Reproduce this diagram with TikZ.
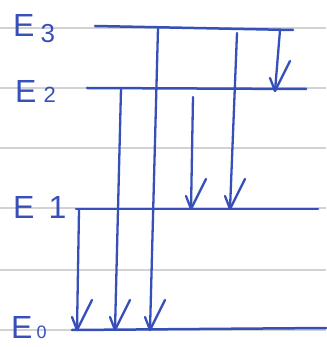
\documentclass[tikz,border=0pt]{standalone}
\usepackage{fontspec}
\setmainfont{Liberation Sans}
\definecolor{ink}{RGB}{55,80,185}
\definecolor{rulegray}{RGB}{210,210,210}
\begin{document}
\begin{tikzpicture}[x=1pt,y=-1pt,
  lvl/.style={draw=ink,line width=2.5pt,line cap=round},
  trans/.style={draw=ink,line width=2.3pt,line cap=round,line join=round},
  ruling/.style={draw=rulegray,line width=1.2pt},
  lab/.style={text=ink,font=\fontsize{32}{32}\selectfont,inner sep=0pt,anchor=base west},
  chk/.pic={\draw[trans] (-5,-13) -- (0,0) -- (15,-30);}]
\useasboundingbox (0,0) rectangle (326,347);
\fill[white] (0,0) rectangle (326,347);
\foreach \y in {28,88,148,208,270,330} \draw[ruling] (0,\y) -- (326,\y);
% labels
\node[lab] (l3) at (13,37) {E\kern6pt\raisebox{-6pt}{\fontsize{26}{26}\selectfont 3}};
\node[lab] (l2) at (15,103) {E\kern7pt{\fontsize{22}{22}\selectfont 2}};
\node[lab] (l1) at (13,218) {E\kern14pt 1};
\node[lab] (l0) at (11,338) {E\kern4pt{\fontsize{18}{18}\selectfont 0}};
% levels
\coordinate (E3a) at (95,26);  \coordinate (E3b) at (293,30);
\coordinate (E2a) at (87,88);  \coordinate (E2b) at (306,89);
\coordinate (E1a) at (76,209); \coordinate (E1b) at (318,209);
\coordinate (E0a) at (72,330); \coordinate (E0b) at (326,328);
\draw[lvl] (E3a) -- (E3b);
\draw[lvl] (E2a) -- (E2b);
\draw[lvl] (E1a) -- (E1b);
\draw[lvl] (E0a) -- (E0b);
% transitions
\coordinate (t1s) at (280,30);  \coordinate (t1e) at (275,91);
\coordinate (t2s) at (237,33);  \coordinate (t2e) at (230,209);
\coordinate (t3s) at (158,28);  \coordinate (t3e) at (150,330);
\coordinate (t4s) at (193,97);  \coordinate (t4e) at (191,209);
\coordinate (t5s) at (121,89);  \coordinate (t5e) at (115,330);
\coordinate (t6s) at (79,210);  \coordinate (t6e) at (77,330);
\foreach \t in {t1,t2,t3,t4,t5,t6}{
  \draw[trans] (\t s) -- (\t e);
  \pic at (\t e) {chk};
}
\end{tikzpicture}
\end{document}
